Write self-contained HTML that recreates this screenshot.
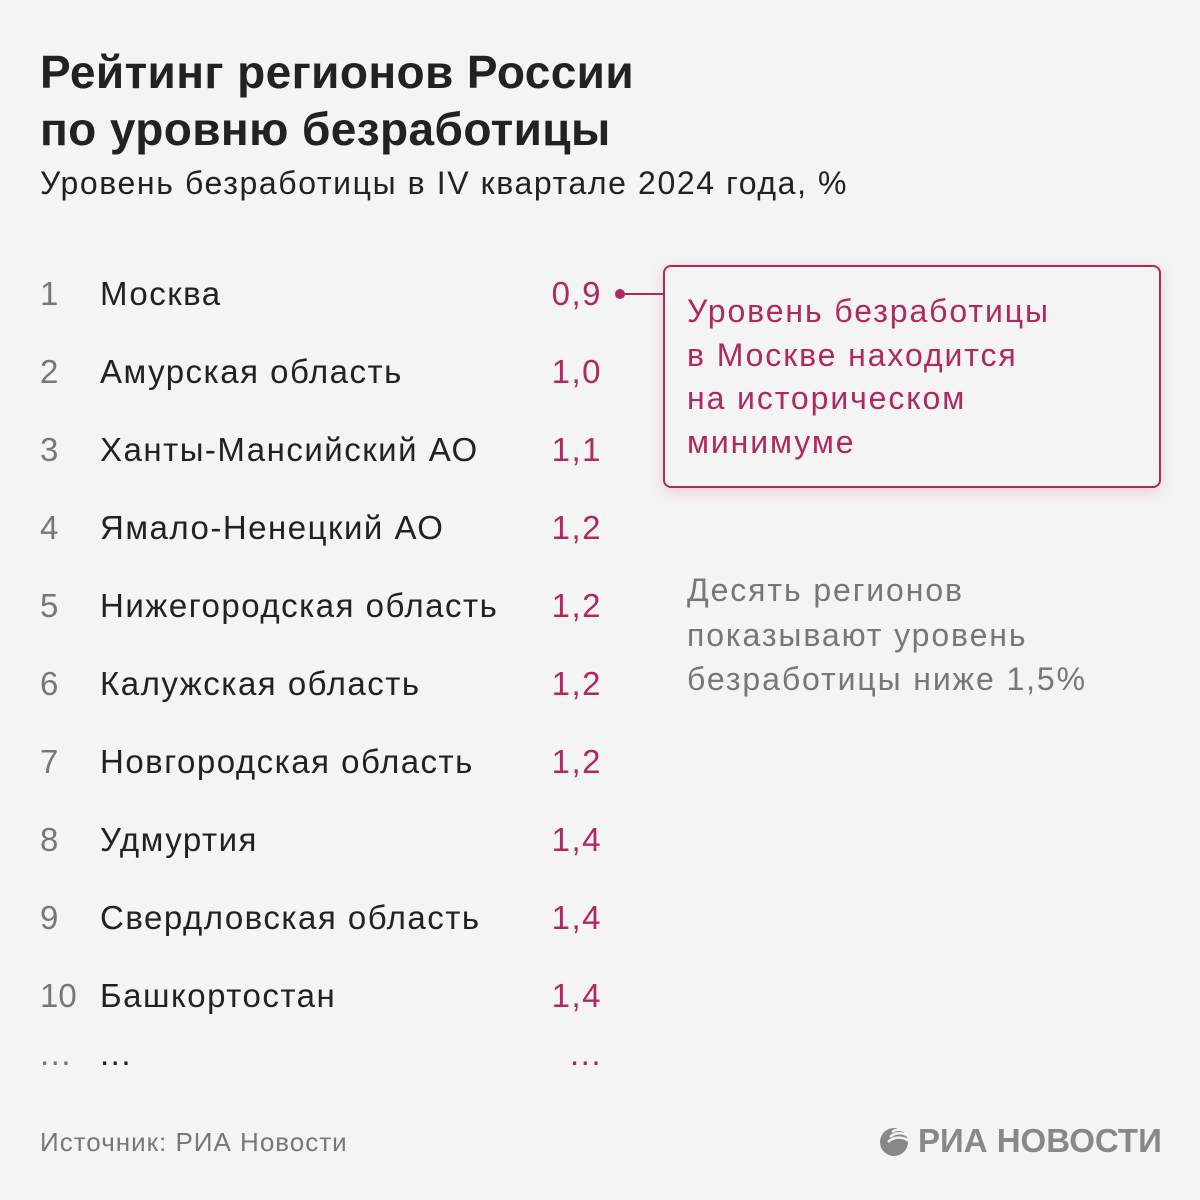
<!DOCTYPE html>
<html><head><meta charset="utf-8"><style>
body{margin:0;width:1200px;height:1200px;background:#f4f4f4;font-family:"Liberation Sans",sans-serif;position:relative;overflow:hidden}
.a{position:absolute;white-space:nowrap}
.t{left:40px;font-size:46px;font-weight:bold;color:#222;letter-spacing:0.4px}
.r{font-size:33px;color:#222;height:40px;line-height:40px;letter-spacing:1.5px}
.n{left:40px;color:#777}
.m{left:100px}
.v{right:598px;color:#b0285f;text-align:right}
.box{position:absolute;left:663px;top:265px;width:494px;height:219px;border:2px solid #b0285f;border-radius:8px;box-shadow:0 4px 14px rgba(176,40,95,0.18)}
.bt{left:687px;font-size:32px;color:#b0285f;line-height:43.5px;letter-spacing:1.9px}
.gt{left:687px;font-size:32px;color:#777;line-height:44.5px;letter-spacing:1.9px}
</style></head><body>
<div class="a t" style="top:45px">Рейтинг регионов России</div>
<div class="a t" style="top:102px">по уровню безработицы</div>
<div class="a" style="left:40px;top:165px;font-size:32px;color:#222;letter-spacing:1.6px">Уровень безработицы в IV квартале 2024 года, %</div>

<div class="a r n" style="top:274px">1</div><div class="a r m" style="top:274px">Москва</div><div class="a r v" style="top:274px">0,9</div>
<div class="a r n" style="top:352px">2</div><div class="a r m" style="top:352px">Амурская область</div><div class="a r v" style="top:352px">1,0</div>
<div class="a r n" style="top:430px">3</div><div class="a r m" style="top:430px">Ханты-Мансийский АО</div><div class="a r v" style="top:430px">1,1</div>
<div class="a r n" style="top:508px">4</div><div class="a r m" style="top:508px">Ямало-Ненецкий АО</div><div class="a r v" style="top:508px">1,2</div>
<div class="a r n" style="top:586px">5</div><div class="a r m" style="top:586px">Нижегородская область</div><div class="a r v" style="top:586px">1,2</div>
<div class="a r n" style="top:664px">6</div><div class="a r m" style="top:664px">Калужская область</div><div class="a r v" style="top:664px">1,2</div>
<div class="a r n" style="top:742px">7</div><div class="a r m" style="top:742px">Новгородская область</div><div class="a r v" style="top:742px">1,2</div>
<div class="a r n" style="top:820px">8</div><div class="a r m" style="top:820px">Удмуртия</div><div class="a r v" style="top:820px">1,4</div>
<div class="a r n" style="top:898px">9</div><div class="a r m" style="top:898px">Свердловская область</div><div class="a r v" style="top:898px">1,4</div>
<div class="a r n" style="top:976px;letter-spacing:0">10</div><div class="a r m" style="top:976px">Башкортостан</div><div class="a r v" style="top:976px">1,4</div>
<div class="a r n" style="top:1034px">...</div><div class="a r m" style="top:1034px">...</div><div class="a r v" style="top:1034px">...</div>

<div class="a" style="left:615px;top:289px;width:10px;height:10px;border-radius:50%;background:#b0285f"></div>
<div class="a" style="left:620px;top:293px;width:44px;height:2px;background:#b0285f"></div>
<div class="box"></div>
<div class="a bt" style="top:290px">Уровень безработицы<br>в Москве находится<br>на историческом<br>минимуме</div>
<div class="a gt" style="top:568px">Десять регионов<br>показывают уровень<br>безработицы ниже 1,5%</div>

<div class="a" style="left:40px;top:1127px;font-size:26px;color:#777;letter-spacing:1px">Источник: РИА Новости</div>
<svg class="a" style="left:878px;top:1124px" width="36" height="34" viewBox="0 0 36 34">
<circle cx="16" cy="18" r="14" fill="#888"/>
<path d="M14 8 A12 12 0 0 1 30 10" stroke="#f4f4f4" stroke-width="2.5" fill="none"/>
<path d="M12 13 A14 14 0 0 1 32 14" stroke="#f4f4f4" stroke-width="2.5" fill="none"/>
<path d="M10 18 A16 16 0 0 1 33 19" stroke="#f4f4f4" stroke-width="2.5" fill="none"/>
</svg>
<div class="a" style="left:918px;top:1122px;font-size:33px;font-weight:bold;color:#888">РИА НОВОСТИ</div>
</body></html>
